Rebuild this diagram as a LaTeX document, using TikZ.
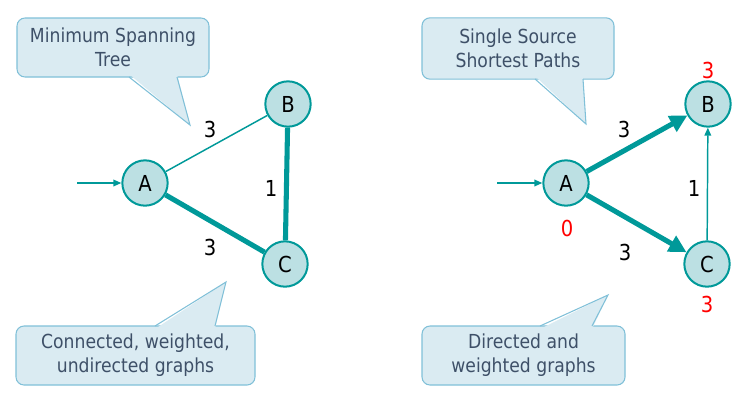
\documentclass[tikz,border=0pt]{standalone}
\usepackage{fontspec}
\setmainfont[FakeStretch=0.89]{DejaVu Sans}
\usetikzlibrary{arrows.meta}

\definecolor{verdeacqua}{RGB}{0,153,153}
\definecolor{riempimento}{RGB}{188,224,227}
\definecolor{fondofumetto}{RGB}{218,235,242}
\definecolor{bordofumetto}{RGB}{128,192,216}
\definecolor{testofumetto}{RGB}{62,80,104}

\begin{document}
\begin{tikzpicture}[x=0.75pt,y=-0.75pt]

\tikzset{
    nodo/.style={
        circle, draw=verdeacqua, line width=1.5pt, fill=riempimento,
        minimum size=34pt, inner sep=0pt,
        font=\fontsize{16.5}{18}\selectfont
    },
    peso/.style={font=\fontsize{16.5}{18}\selectfont},
    distanza/.style={font=\fontsize{16.5}{18}\selectfont, text=red},
    arco_sottile/.style={draw=verdeacqua, line width=1.1pt},
    arco_spesso/.style={draw=verdeacqua, line width=3.8pt},
    freccia_sottile/.style={arco_sottile, -{Triangle[length=6pt,width=5pt]}},
    freccia_spessa/.style={arco_spesso, -{Triangle[length=13pt,width=13pt]}},
    fumetto/.style={
        draw=bordofumetto, fill=fondofumetto, line width=0.8pt,
        rounded corners=6pt, align=center, text=testofumetto,
        font=\fontsize{14.5}{18}\selectfont, inner sep=0pt
    },
    punta/.style={draw=bordofumetto, line width=0.8pt}
}

\useasboundingbox (0,0) rectangle (756,411);

% Fumetti
\node[fumetto, minimum width=144pt, minimum height=44.25pt] (mst) at (113,47.5)
    {Minimum Spanning\\Tree};
\fill[fondofumetto] (129,74) -- (190,125) -- (177,74) -- cycle;
\draw[punta] (129,77) -- (190,125) -- (177,77);

\node[fumetto, minimum width=179.25pt, minimum height=44.25pt] (nonorientati) at (135.5,355.5)
    {Connected, weighted,\\undirected graphs};
\fill[fondofumetto] (155,329) -- (226,282) -- (215,329) -- cycle;
\draw[punta] (155,326) -- (226,282) -- (215,326);

\node[fumetto, minimum width=144pt, minimum height=46pt] (sssp) at (518,48.5)
    {Single Source\\Shortest Paths};
\fill[fondofumetto] (535,76) -- (586,124) -- (583,76) -- cycle;
\draw[punta] (535,79) -- (586,124) -- (583,79);

\node[fumetto, minimum width=152.25pt, minimum height=44.25pt] (orientati) at (523.5,355.5)
    {Directed and\\weighted graphs};
\fill[fondofumetto] (540,329) -- (608,295) -- (592,329) -- cycle;
\draw[punta] (540,326) -- (608,295) -- (592,326);

% Grafo non orientato
\node[nodo] (A1) at (145,183) {A};
\node[nodo] (B1) at (288,104) {B};
\node[nodo] (C1) at (285,264) {C};
\coordinate (ingresso1) at (77,183);

\draw[freccia_sottile] (ingresso1) -- (A1);
\draw[arco_sottile] (A1) -- (B1);
\draw[arco_spesso] (B1) -- (C1);
\draw[arco_spesso] (A1) -- (C1);

\node[peso] (pAB1) at (210,129) {3};
\node[peso] (pBC1) at (271,188) {1};
\node[peso] (pAC1) at (210,247) {3};

% Grafo orientato
\node[nodo] (A2) at (566,183) {A};
\node[nodo] (B2) at (708,104) {B};
\node[nodo] (C2) at (707,264) {C};
\coordinate (ingresso2) at (497,183);

\draw[freccia_sottile] (ingresso2) -- (A2);
\draw[freccia_spessa] (A2) -- (B2);
\draw[freccia_spessa] (A2) -- (C2);
\draw[freccia_sottile] (C2) -- (B2);

\node[peso] (pAB2) at (624,129) {3};
\node[peso] (pCB2) at (694,188) {1};
\node[peso] (pAC2) at (625,252) {3};

% distanze
\node[distanza] (dA) at (567,228) {0};
\node[distanza] (dB) at (708,70) {3};
\node[distanza] (dC) at (707,304) {3};

\end{tikzpicture}
\end{document}
